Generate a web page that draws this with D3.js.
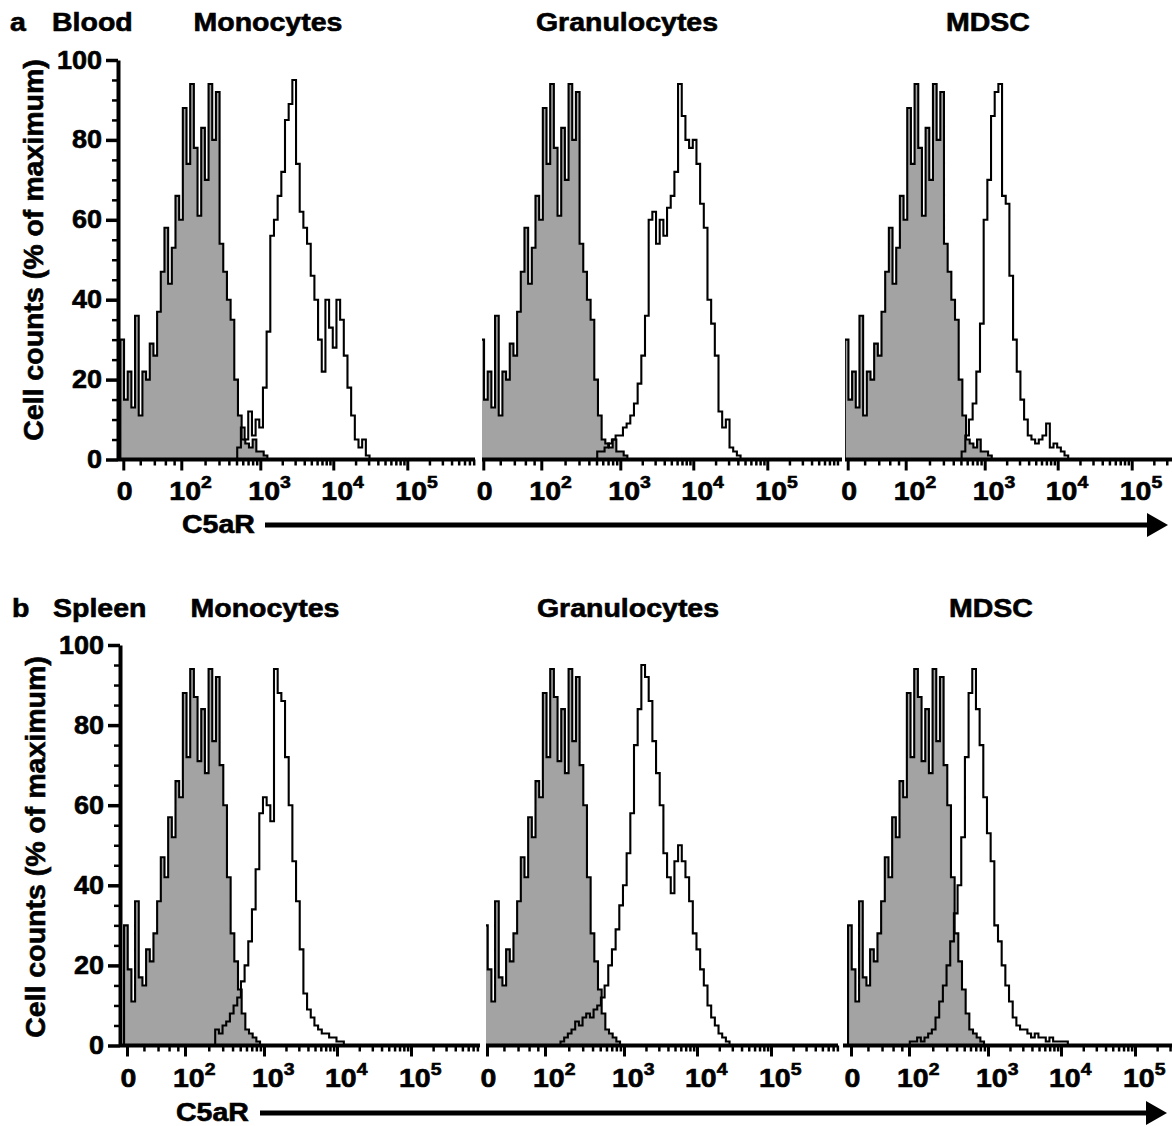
<!DOCTYPE html>
<html lang="en">
<head>
<meta charset="UTF-8">
<title>C5aR on myeloid cells - blood and spleen</title>
<script src="https://d3js.org/d3.v7.min.js"></script>
<style>
  body { margin: 0; background: #fff; }
  svg { display: block; }
  text {
    font-family: "Liberation Sans", Arial, sans-serif;
    font-weight: bold;
    font-size: 25px;
    fill: #000;
    stroke: #000;
    stroke-width: 0.6px;
  }
</style>
</head>
<body>
<svg width="1172" height="1126"></svg>
<script>
// ---- data -------------------------------------------------------------
// x positions are in decades of the biexponential display (0 = zero tick)
const binStep = 0.05;

const cellTypes = ["Monocytes", "Granulocytes", "MDSC"];
const tissues = ["Blood", "Spleen"];
const panelLetters = ["a", "b"];

const yTicks = [0, 20, 40, 60, 80, 100];
const xTickPos = [0, 0.789, 1.864, 2.857, 3.864];
const xTickBase = ["0", "10", "10", "10", "10"];
const xTickExp = [null, "2", "3", "4", "5"];
const axisTitle = "C5aR";
const yTitle = "Cell counts (% of maximum)";

// isotype control (grey), % of maximum per bin
const isoStart = -0.04;
const isoBlood = [30, 15, 22, 13, 36, 11, 22, 20, 29, 26, 37, 47, 58, 44, 53, 66, 60, 88, 74, 94,
  78, 61, 83, 70, 94, 80, 92, 54, 47, 40, 35, 20, 11, 5, 4, 3, 5, 2, 2, 1];
const isoSpleen = [30, 19, 11, 36, 17, 15, 24, 21, 28, 36, 47, 42, 57, 52, 66, 62, 88, 72, 94, 87,
  71, 84, 68, 94, 76, 92, 70, 60, 42, 28, 21, 14, 8, 4, 3, 2, 1];

// C5aR stain (open histograms)
const bloodMono = [3, 8, 5, 12, 6, 10, 8, 18, 32, 56, 60, 66, 72, 85, 89, 95, 74, 62, 58, 54,
  46, 40, 30, 22, 40, 33, 28, 40, 35, 26, 18, 11, 5, 3, 5, 1];
const bloodGran = [2, 2, 3, 4, 5, 6, 6, 8, 9, 11, 14, 19, 26, 36, 60, 62, 54, 60, 56, 63,
  66, 72, 94, 86, 80, 78, 80, 74, 64, 58, 40, 34, 26, 12, 8, 10, 3, 2, 1];
const bloodMDSC = [2, 6, 10, 14, 22, 34, 60, 70, 86, 92, 94, 66, 64, 46, 30, 22, 15, 10, 6, 5,
  4, 5, 6, 9, 3, 4, 3, 2, 1];
const spleenMono = [4, 3, 5, 6, 8, 10, 12, 16, 20, 26, 34, 44, 58, 62, 60, 56, 94, 88, 86, 72,
  60, 46, 36, 24, 13, 9, 7, 5, 4, 3, 3, 2, 2, 1, 1];
const spleenGran = [1, 2, 3, 4, 6, 5, 7, 8, 7, 9, 10, 12, 15, 20, 24, 29, 35, 40, 48, 58,
  75, 84, 95, 92, 86, 76, 68, 60, 48, 42, 38, 46, 50, 46, 42, 36, 28, 24, 19, 15,
  10, 7, 5, 3, 2, 1];
const spleenMDSC = [1, 1, 2, 1, 2, 3, 4, 7, 11, 15, 20, 26, 33, 40, 52, 72, 88, 94, 84, 75,
  62, 53, 46, 30, 26, 20, 15, 11, 7, 5, 4, 4, 3, 2, 3, 2, 2, 1, 2, 1, 1, 1, 1];
const stainStart = [[1.55, 1.55, 1.55], [1.2, 1.0, 0.8]];

const isoSeries = [isoBlood, isoSpleen];
const stainSeries = [[bloodMono, bloodGran, bloodMDSC], [spleenMono, spleenGran, spleenMDSC]];

// ---- layout -----------------------------------------------------------
const decadePx = 73.5;
const stretch = 1.14; // original lettering is wider than Liberation Sans

const rows = [
  { base: 459.5, top: 60, axisX: 118, titleY: 31, letterX: 10, tissueX: 52,
    titleX: [268, 627, 988], tickY: 500, arrowY: 525, labelX: 182, labelY: 533,
    lineX: 265, tipX: 1168, ylabX: 43, ylabY: 250,
    left: [118, 482, 845], zero: [123.3, 483.3, 847.7], right: [475, 842, 1180] },
  { base: 1045.5, top: 645, axisX: 120, titleY: 617, letterX: 12, tissueX: 53,
    titleX: [265, 628, 991], tickY: 1087, arrowY: 1113, labelX: 176, labelY: 1121,
    lineX: 260, tipX: 1167, ylabX: 45, ylabY: 847,
    left: [120, 486, 843], zero: [127, 487, 851], right: [480, 838, 1180] }
];

const svg = d3.select("svg");

function widen(sel, k) {
  sel.each(function () {
    const len = this.getComputedTextLength();
    d3.select(this).attr("textLength", len * k).attr("lengthAdjust", "spacingAndGlyphs");
  });
}

function binPoints(values, start) {
  const pts = [[start, 0]];
  values.forEach((v, i) => pts.push([start + i * binStep, v]));
  pts.push([start + values.length * binStep, 0]);
  return pts;
}

// minor ticks: 20..80 squeezed into the near-linear part, then 2..9 x 10^n
function minorTicks() {
  const out = [];
  const c = 40;
  for (let v = 20; v < 100; v += 20) {
    out.push(xTickPos[1] * Math.asinh(v / c) / Math.asinh(100 / c));
  }
  for (let k = 1; k < xTickPos.length; k++) {
    const span = k < xTickPos.length - 1 ? xTickPos[k + 1] - xTickPos[k] : 1;
    for (let m = 2; m <= 9; m++) out.push(xTickPos[k] + span * Math.log10(m));
  }
  return out;
}
const xMinor = minorTicks();
const yMinor = d3.range(5, 100, 5).filter(v => v % 20 !== 0);

rows.forEach((row, r) => {
  const y = d3.scaleLinear().domain([0, 100]).range([row.base, row.top]);
  const g = svg.append("g");

  // histograms + x axes
  cellTypes.forEach((name, p) => {
    const zero = row.zero[p];
    const x = d3.scaleLinear().domain([0, 1]).range([zero, zero + decadePx]);
    const lo = x.invert(row.left[p]), hi = x.invert(row.right[p]);

    const clipId = `clip-${r}-${p}`;
    svg.append("clipPath").attr("id", clipId)
      .append("rect")
      .attr("x", row.left[p]).attr("y", row.top - 30)
      .attr("width", row.right[p] - row.left[p])
      .attr("height", row.base - row.top + 30);

    const area = d3.area().curve(d3.curveStepAfter)
      .x(d => x(d[0])).y0(y(0)).y1(d => y(d[1]));
    const line = d3.line().curve(d3.curveStepAfter)
      .x(d => x(d[0])).y(d => y(d[1]));

    const isoPts = binPoints(isoSeries[r], isoStart);
    const stainPts = binPoints(stainSeries[r][p], stainStart[r][p]);

    const hg = g.append("g").attr("clip-path", `url(#${clipId})`);
    hg.append("path").attr("d", area(isoPts)).attr("fill", "#a3a3a3");
    hg.append("path").attr("d", line(isoPts))
      .attr("fill", "none").attr("stroke", "#000").attr("stroke-width", 2.1);
    hg.append("path").attr("d", line(stainPts))
      .attr("fill", "none").attr("stroke", "#000").attr("stroke-width", 2.1);

    // baseline
    g.append("line")
      .attr("x1", row.left[p]).attr("x2", row.right[p])
      .attr("y1", row.base).attr("y2", row.base)
      .attr("stroke", "#000").attr("stroke-width", 4);

    const major = g.append("g").attr("transform", `translate(0,${row.base})`)
      .call(d3.axisBottom(x).tickValues(xTickPos).tickSize(11).tickFormat(() => ""));
    major.select(".domain").remove();
    major.selectAll("line").attr("stroke-width", 3);

    const minor = g.append("g").attr("transform", `translate(0,${row.base})`)
      .call(d3.axisBottom(x).tickValues(xMinor.filter(v => v > lo && v < hi))
        .tickSize(6).tickFormat(() => ""));
    minor.select(".domain").remove();
    minor.selectAll("line").attr("stroke-width", 2.5);

    const labels = g.append("g").selectAll("text")
      .data(xTickPos)
      .join("text")
      .attr("y", row.tickY);
    labels.each(function (d, i) {
      const t = d3.select(this);
      if (xTickExp[i] === null) {
        t.attr("x", x(d) + 1.5).attr("text-anchor", "middle").text(xTickBase[i]);
      } else {
        t.attr("x", x(d) - 12);
        t.append("tspan").text(xTickBase[i]);
        t.append("tspan").attr("dy", -11.7).style("font-size", "17px").text(xTickExp[i]);
      }
    });
    widen(labels, stretch);

    // cell type heading
    g.append("text")
      .attr("x", row.titleX[p]).attr("y", row.titleY)
      .attr("text-anchor", "middle")
      .text(name)
      .call(widen, stretch);
  });

  // y axis
  const ya = g.append("g").attr("transform", `translate(${row.axisX},0)`)
    .call(d3.axisLeft(y).tickValues(yTicks).tickSize(12).tickSizeOuter(0).tickPadding(4));
  ya.select(".domain").attr("stroke-width", 4);
  ya.selectAll(".tick line").attr("stroke-width", 3.5);
  widen(ya.selectAll("text"), 1.08);

  const ym = g.append("g").attr("transform", `translate(${row.axisX},0)`)
    .call(d3.axisLeft(y).tickValues(yMinor).tickSize(6).tickFormat(() => ""));
  ym.select(".domain").remove();
  ym.selectAll("line").attr("stroke-width", 2.5);

  g.append("text")
    .attr("transform", `translate(${row.ylabX},${row.ylabY}) rotate(-90)`)
    .attr("text-anchor", "middle")
    .style("font-size", "28.5px")
    .text(yTitle);

  // panel letter and tissue
  g.append("text").attr("x", row.letterX).attr("y", row.titleY)
    .text(panelLetters[r]).call(widen, stretch);
  g.append("text").attr("x", row.tissueX).attr("y", row.titleY)
    .text(tissues[r]).call(widen, stretch);

  // C5aR arrow
  g.append("text").attr("x", row.labelX).attr("y", row.labelY)
    .text(axisTitle).call(widen, stretch);
  const headLen = 21, headHalf = 12;
  g.append("line")
    .attr("x1", row.lineX).attr("x2", row.tipX - headLen + 2)
    .attr("y1", row.arrowY).attr("y2", row.arrowY)
    .attr("stroke", "#000").attr("stroke-width", 5);
  g.append("path")
    .attr("d", d3.line()([
      [row.tipX - headLen, row.arrowY - headHalf],
      [row.tipX, row.arrowY],
      [row.tipX - headLen, row.arrowY + headHalf]
    ]) + "Z")
    .attr("fill", "#000");
});
</script>
</body>
</html>
